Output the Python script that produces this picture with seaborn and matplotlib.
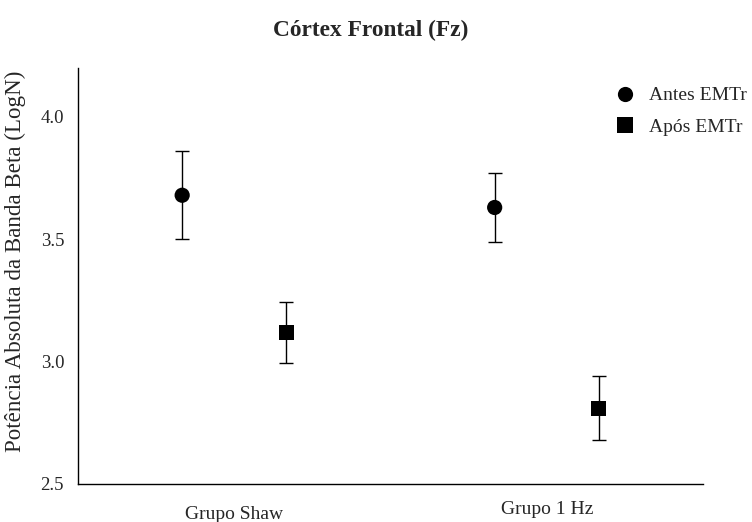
import matplotlib
matplotlib.use("Agg")
import matplotlib.pyplot as plt
import seaborn as sns
import pandas as pd
import numpy as np

# Group means and standard errors of absolute beta power (LogN), Fz electrode
groups = ["Grupo Shaw", "Grupo 1 Hz"]
moments = ["Antes EMTr", "Após EMTr"]
mean_before = [3.68, 3.63]
mean_after = [3.12, 2.81]
err_before = [0.18, 0.14]
err_after = [0.125, 0.13]
y_ticks = [2.5, 3.0, 3.5, 4.0]

sns.set_theme(style="white")
plt.rcParams["font.family"] = ["Liberation Serif", "DejaVu Serif"]

rows = []
for gi, g in enumerate(groups):
    rows.append({"grupo": g, "pos": gi - 1 / 6, "Momento": moments[0],
                 "valor": mean_before[gi], "erro": err_before[gi]})
    rows.append({"grupo": g, "pos": gi + 1 / 6, "Momento": moments[1],
                 "valor": mean_after[gi], "erro": err_after[gi]})
df = pd.DataFrame(rows)

fig = plt.figure(figsize=(7.52, 5.22), dpi=100)
ax = fig.add_axes([78 / 752, 38 / 522, 625 / 752, 416 / 522])

ax.errorbar(df["pos"], df["valor"], yerr=df["erro"], fmt="none",
            ecolor="black", elinewidth=1.0, capsize=5.3, capthick=1.0, zorder=2)
sns.scatterplot(data=df, x="pos", y="valor", style="Momento",
                markers={"Antes EMTr": "o", "Após EMTr": "s"},
                color="black", s=120, edgecolor="black", linewidth=0,
                ax=ax, zorder=3, legend=True)

ax.set_xlim(-0.5, 1.5)
ax.set_ylim(2.5, 4.2)
ax.set_xticks([0, 1])
ax.set_xticklabels(groups, fontsize=14)
ax.set_yticks(y_ticks)
ax.set_yticklabels([f"{v:.1f}" for v in y_ticks], fontsize=13.5)
ax.tick_params(axis="both", length=0)
ax.tick_params(axis="y", pad=10)
ax.tick_params(axis="x", pad=15.5)
# second group label sits slightly higher
ax.get_xticklabels()[1].set_y(0.01)

ax.set_xlabel("")
ax.set_ylabel("Potência Absoluta da Banda Beta (LogN)", fontsize=16.6)
ax.yaxis.set_label_coords(-0.083, 0.535)

for side in ["top", "right"]:
    ax.spines[side].set_visible(False)
for side in ["left", "bottom"]:
    ax.spines[side].set_color("black")
    ax.spines[side].set_linewidth(1.0)

fig.text(371 / 752, 1 - 30 / 522, "Córtex Frontal (Fz)", ha="center", va="center",
         fontsize=16.8, fontweight="bold")

leg = ax.legend(title=None, frameon=False, fontsize=14, loc="upper left",
                bbox_to_anchor=(598 / 752, 1 - 79 / 522), bbox_transform=fig.transFigure,
                labelspacing=0.72, handletextpad=0.2, borderaxespad=0,
                markerscale=1.0)

fig.savefig("out.png", dpi=100)
